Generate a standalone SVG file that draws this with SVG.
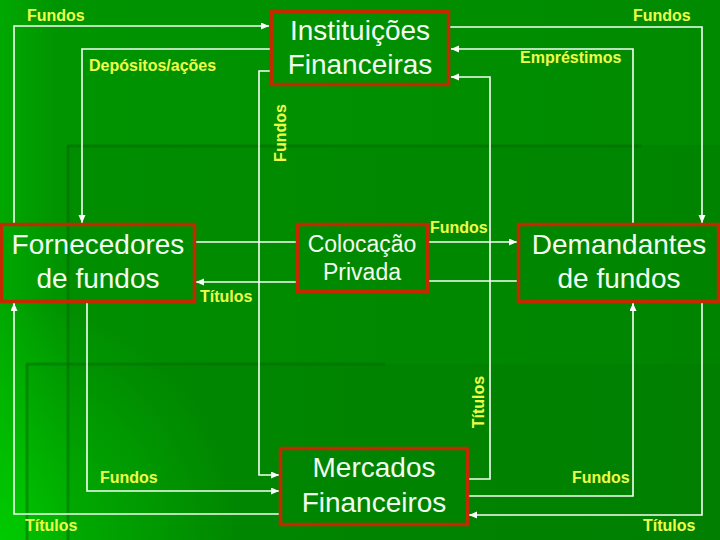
<svg xmlns="http://www.w3.org/2000/svg" width="720" height="540" viewBox="0 0 720 540">
  <defs>
    <linearGradient id="bg" x1="0" y1="0" x2="1" y2="0">
      <stop offset="0" stop-color="#00a800"/>
      <stop offset="0.08" stop-color="#009400"/>
      <stop offset="1" stop-color="#008a00"/>
    </linearGradient>
    <radialGradient id="glow" cx="0" cy="540" r="240" gradientUnits="userSpaceOnUse">
      <stop offset="0" stop-color="#00d000" stop-opacity="0.85"/>
      <stop offset="1" stop-color="#00d000" stop-opacity="0"/>
    </radialGradient>
    <marker id="arr" markerWidth="9" markerHeight="8" refX="8" refY="3.5" orient="auto" markerUnits="userSpaceOnUse">
      <path d="M0,0 L8,3.5 L0,7 z" fill="#ffffff"/>
    </marker>
    <style>
      .box { fill: none; stroke: #c42a00; stroke-width: 3.5; }
      .nt { font-family: "Liberation Sans", Arial, sans-serif; font-size: 28px; fill: #f2fff0; text-anchor: middle; }
      .nts { font-family: "Liberation Sans", Arial, sans-serif; font-size: 23px; fill: #f2fff0; text-anchor: middle; }
      .lb { font-family: "Liberation Sans", Arial, sans-serif; font-size: 16px; font-weight: bold; fill: #eeff4a; }
      .ln { fill: none; stroke: #f4fff4; stroke-width: 1.6; }
      .la { fill: none; stroke: #f4fff4; stroke-width: 1.6; marker-end: url(#arr); }
      .deco { stroke: #006800; stroke-width: 3; opacity: 0.45; }
    </style>
  </defs>

  <!-- background -->
  <rect x="0" y="0" width="720" height="540" fill="url(#bg)"/>
  <rect x="0" y="0" width="720" height="540" fill="url(#glow)"/>
  <rect x="67" y="145" width="653" height="395" fill="#000000" opacity="0.04"/>
  <rect x="26" y="364" width="694" height="176" fill="#000000" opacity="0.03"/>
  <line class="deco" x1="67" y1="146" x2="642" y2="146"/>
  <line class="deco" x1="68" y1="146" x2="68" y2="540"/>
  <line class="deco" x1="26" y1="364" x2="385" y2="364"/>
  <line class="deco" x1="27" y1="364" x2="27" y2="540"/>

  <!-- connectors -->
  <g id="connectors">
    <path class="la" d="M14,223 V26 H269"/>
    <path class="la" d="M270,49 H82 V223"/>
    <path class="la" d="M270,71 H259 V475 H279"/>
    <path class="la" d="M450,27 H702 V223"/>
    <path class="la" d="M633,223 V49 H451"/>
    <path class="la" d="M468,479 H490 V77 H451"/>
    <path class="la" d="M428,242 H517"/>
    <path class="ln" d="M518,281 H428"/>
    <path class="la" d="M297,282 H196"/>
    <path class="ln" d="M195,242 H297"/>
    <path class="la" d="M87,302 V491 H279"/>
    <path class="la" d="M280,514 H14 V303"/>
    <path class="la" d="M468,496 H633 V303"/>
    <path class="la" d="M702,302 V515 H469"/>

    <text class="lb" x="27" y="21">Fundos</text>
    <text class="lb" x="89" y="71">Depósitos/ações</text>
    <text class="lb" transform="rotate(-90 286 133)" x="286" y="133" text-anchor="middle">Fundos</text>
    <text class="lb" x="633" y="21">Fundos</text>
    <text class="lb" x="520" y="63">Empréstimos</text>
    <text class="lb" transform="rotate(-90 484 402)" x="484" y="402" text-anchor="middle">Títulos</text>
    <text class="lb" x="430" y="233">Fundos</text>
    <text class="lb" x="200" y="302">Títulos</text>
    <text class="lb" x="100" y="483">Fundos</text>
    <text class="lb" x="25" y="531">Títulos</text>
    <text class="lb" x="572" y="483">Fundos</text>
    <text class="lb" x="643" y="531">Títulos</text>
  </g>

  <!-- nodes -->
  <g id="instituicoes">
    <rect class="box" x="271.5" y="11.5" width="177" height="73"/>
    <text class="nt" x="360" y="40">Instituições</text>
    <text class="nt" x="360" y="74">Financeiras</text>
  </g>
  <g id="fornecedores">
    <rect class="box" x="1.5" y="224.5" width="193" height="77"/>
    <text class="nt" x="98" y="254">Fornecedores</text>
    <text class="nt" x="98" y="288">de fundos</text>
  </g>
  <g id="colocacao">
    <rect class="box" x="297.5" y="224.5" width="130" height="67"/>
    <text class="nts" x="362" y="252">Colocação</text>
    <text class="nts" x="362" y="280">Privada</text>
  </g>
  <g id="demandantes">
    <rect class="box" x="518.5" y="224.5" width="200" height="77"/>
    <text class="nt" x="619" y="254">Demandantes</text>
    <text class="nt" x="619" y="288">de fundos</text>
  </g>
  <g id="mercados">
    <rect class="box" x="280.5" y="448.5" width="187" height="76"/>
    <text class="nt" x="374" y="477">Mercados</text>
    <text class="nt" x="374" y="512">Financeiros</text>
  </g>
</svg>
